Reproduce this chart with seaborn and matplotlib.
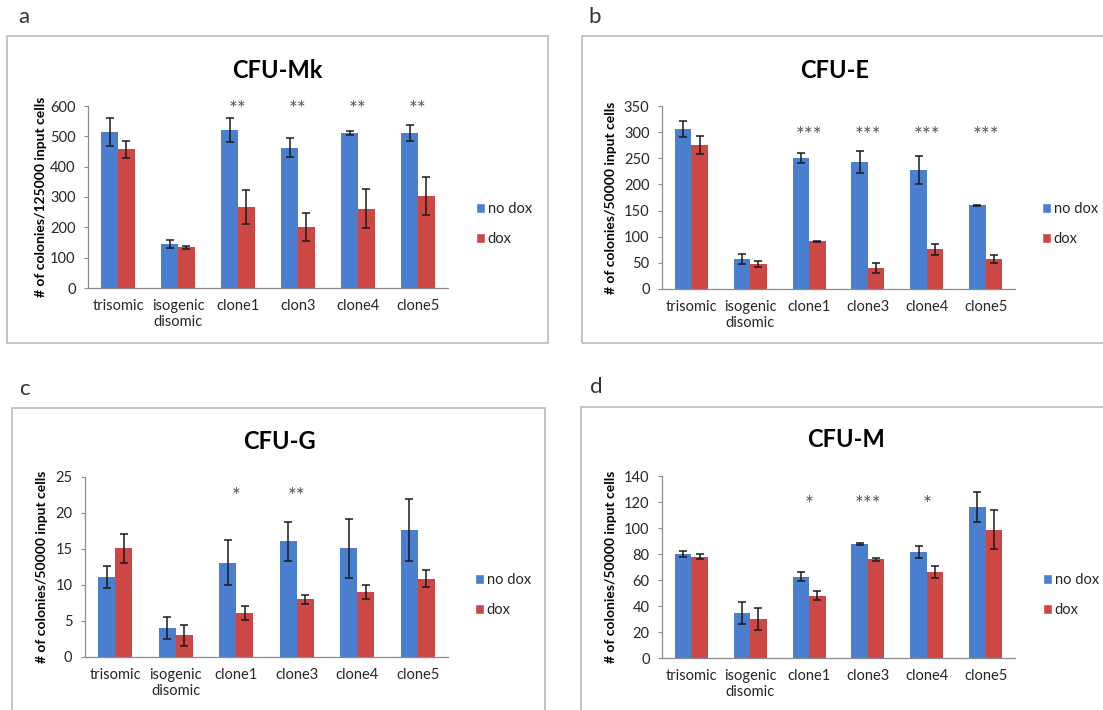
import matplotlib
matplotlib.use("Agg")
import matplotlib.pyplot as plt
from matplotlib.patches import Rectangle, Patch
import seaborn as sns
import pandas as pd

# ---------------- data ----------------
categories = ["trisomic", "isogenic\ndisomic", "clone1", "clone3", "clone4", "clone5"]
categories_mk = ["trisomic", "isogenic\ndisomic", "clone1", "clon3", "clone4", "clone5"]
conditions = ["no dox", "dox"]

mk_nodox = [515, 145, 521, 462, 511, 510]
mk_nodox_err = [46, 13, 40, 31, 8, 26]
mk_dox = [458, 135, 267, 201, 261, 304]
mk_dox_err = [28, 5, 55, 46, 64, 62]
mk_stars = ["", "", "**", "**", "**", "**"]

e_nodox = [306, 57, 251, 243, 228, 160]
e_nodox_err = [16, 9, 10, 21, 27, 0.5]
e_dox = [276, 48, 91, 40, 76, 57]
e_dox_err = [17, 5, 1, 9, 11, 8]
e_stars = ["", "", "***", "***", "***", "***"]

g_nodox = [11.1, 4.0, 13.1, 16.1, 15.1, 17.6]
g_nodox_err = [1.55, 1.5, 3.1, 2.7, 4.1, 4.3]
g_dox = [15.1, 3.0, 6.1, 8.0, 9.0, 10.9]
g_dox_err = [2.0, 1.5, 1.0, 0.6, 1.0, 1.2]
g_stars = ["", "", "*", "**", "", ""]

m_nodox = [80, 34.6, 62.5, 87.7, 81.5, 116]
m_nodox_err = [2, 8.5, 3.5, 1, 4.3, 11.5]
m_dox = [78, 30, 48, 76, 66, 98.5]
m_dox_err = [2, 8.5, 3.5, 1, 4.5, 15]
m_stars = ["", "", "*", "***", "*", ""]

panels = [
    dict(letter="a", title="CFU-Mk", cats=categories_mk, nd=mk_nodox, nde=mk_nodox_err,
         d=mk_dox, de=mk_dox_err, stars=mk_stars, ymax=600, step=100, star_y=588,
         ylabel="# of colonies/125000 input cells"),
    dict(letter="b", title="CFU-E", cats=categories, nd=e_nodox, nde=e_nodox_err,
         d=e_dox, de=e_dox_err, stars=e_stars, ymax=350, step=50, star_y=292,
         ylabel="# of colonies/50000 input cells"),
    dict(letter="c", title="CFU-G", cats=categories, nd=g_nodox, nde=g_nodox_err,
         d=g_dox, de=g_dox_err, stars=g_stars, ymax=25, step=5, star_y=22.2,
         ylabel="# of colonies/50000 input cells"),
    dict(letter="d", title="CFU-M", cats=categories, nd=m_nodox, nde=m_nodox_err,
         d=m_dox, de=m_dox_err, stars=m_stars, ymax=140, step=20, star_y=118,
         ylabel="# of colonies/50000 input cells"),
]

# ---------------- layout (pixels) ----------------
W, H = 1103, 710
axes_px = [(88, 106, 448, 288), (662, 106, 1015, 289), (85, 477, 448, 657), (662, 476, 1015, 658)]
boxes_px = [(7, 36, 548, 343), (582, 36, 1110, 343), (12, 408, 545, 720), (581, 407, 1110, 720)]
letters_px = [(24, 17), (595, 17), (24, 389), (596, 387)]
titles_px = [(277, 70), (835, 70), (279, 442), (846, 440)]
ylab_x_px = [41, 611, 42, 611]
legend_px = [(476, 201), (1042, 201), (475, 572), (1043, 572)]

blue = "#4a7fd0"
red = "#cd4744"
axis_col = "#8c8c8c"
txt_col = "#262626"

sns.set_style("white")
plt.rcParams["font.family"] = ["Lato", "DejaVu Sans"]

fig = plt.figure(figsize=(W / 100, H / 100), dpi=100)

def fx(x):
    return x / W

def fy(y):
    return 1 - y / H

for i, p in enumerate(panels):
    bx0, by0, bx1, by1 = boxes_px[i]
    fig.patches.append(Rectangle((fx(bx0), fy(by1)), fx(bx1) - fx(bx0), fy(by0) - fy(by1),
                                 transform=fig.transFigure, fill=False,
                                 edgecolor="#c9bdb3", linewidth=1.3, zorder=0))
    lx, ly = letters_px[i]
    fig.text(fx(lx), fy(ly), p["letter"], fontsize=16, color="#333333", ha="center", va="center")
    tx, ty = titles_px[i]
    fig.text(fx(tx), fy(ty), p["title"], fontsize=17, fontweight="bold", color="black",
             ha="center", va="center")

    x0, y0, x1, y1 = axes_px[i]
    ax = fig.add_axes([fx(x0), fy(y1), fx(x1) - fx(x0), fy(y0) - fy(y1)])
    df = pd.DataFrame({
        "category": p["cats"] * 2,
        "condition": [conditions[0]] * 6 + [conditions[1]] * 6,
        "value": p["nd"] + p["d"],
    })
    sns.barplot(data=df, x="category", y="value", hue="condition", hue_order=conditions,
                order=p["cats"], palette=[blue, red], width=0.56, errorbar=None,
                saturation=1, legend=False, ax=ax, linewidth=0)
    errs = [p["nde"], p["de"]]
    vals = [p["nd"], p["d"]]
    bar_conts = list(ax.containers)
    for k, cont in enumerate(bar_conts):
        xs = [b.get_x() + b.get_width() / 2 for b in cont]
        ax.errorbar(xs, vals[k], yerr=errs[k], fmt="none", ecolor="#1a1a1a",
                    elinewidth=1.1, capsize=3.2, capthick=1.1, zorder=5)
    for j, s in enumerate(p["stars"]):
        if s:
            ax.text(j, p["star_y"], s, ha="center", va="center", fontsize=15,
                    color="#555555")
    ax.set_xlim(-0.5, 5.5)
    ax.set_ylim(0, p["ymax"])
    ax.set_yticks(range(0, int(p["ymax"]) + 1, p["step"]))
    ax.set_xlabel("")
    ax.set_ylabel("")
    for sp in ["top", "right"]:
        ax.spines[sp].set_visible(False)
    for sp in ["left", "bottom"]:
        ax.spines[sp].set_color(axis_col)
        ax.spines[sp].set_linewidth(0.9)
    ax.tick_params(axis="y", length=3, width=0.8, color=axis_col, labelsize=10.5,
                   labelcolor=txt_col, pad=6, left=True)
    ax.tick_params(axis="x", length=0, labelsize=10.5, labelcolor=txt_col, pad=8)
    ax.set_facecolor("none")
    fig.text(fx(ylab_x_px[i]), fy((y0 + y1) / 2), p["ylabel"], rotation=90,
             fontsize=10, fontweight="bold", color="black", ha="center", va="center")
    # legend
    mx, my = legend_px[i]
    handles = [Patch(facecolor=blue, label=conditions[0]), Patch(facecolor=red, label=conditions[1])]
    fig.legend(handles=handles, loc="upper left",
               bbox_to_anchor=(fx(mx - 13), fy(my - 12)), frameon=False,
               handlelength=0.6, handleheight=0.6, handletextpad=0.2,
               labelspacing=1.1, fontsize=10.5, labelcolor=txt_col)

fig.savefig("out.png", dpi=100, facecolor="white")
